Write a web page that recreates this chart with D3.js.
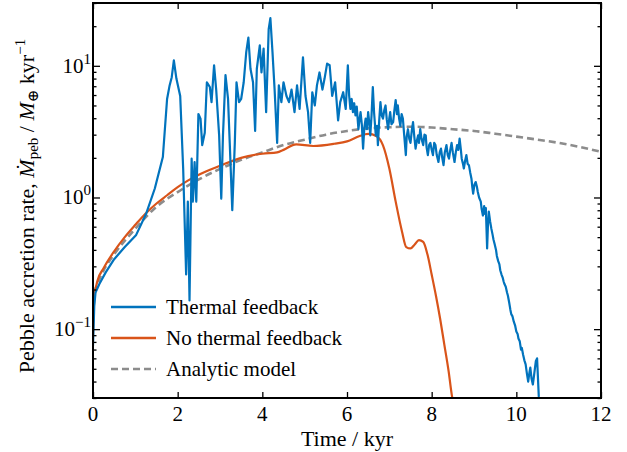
<!DOCTYPE html>
<html>
<head>
<meta charset="utf-8">
<script src="https://cdn.jsdelivr.net/npm/d3@7"></script>
<style>
  body { margin: 0; background: #fff; }
  text { font-family: "Liberation Serif", "DejaVu Serif", serif; fill: #000; }
</style>
</head>
<body>
<svg id="chart" width="627" height="452"></svg>
<script>
// ---- data (time in kyr, rate in M_earth / kyr) ----
var thermalTime = [0, 0.03, 0.06, 0.15, 0.3, 0.5, 0.75, 1.02, 1.26, 1.46, 1.65, 1.75, 1.81, 1.86, 1.91, 1.97, 2.06, 2.13, 2.2, 2.24, 2.28, 2.33, 2.36, 2.4, 2.44, 2.49, 2.54, 2.58, 2.64, 2.69, 2.76, 2.8, 2.86, 2.91, 2.98, 3.03, 3.07, 3.13, 3.19, 3.23, 3.29, 3.35, 3.39, 3.45, 3.5, 3.56, 3.62, 3.67, 3.72, 3.78, 3.83, 3.87, 3.94, 3.98, 4.03, 4.09, 4.15, 4.19, 4.24, 4.29, 4.35, 4.39, 4.45, 4.5, 4.57, 4.63, 4.69, 4.76, 4.82, 4.88, 4.96, 5.02, 5.08, 5.13, 5.18, 5.24, 5.29, 5.35, 5.42, 5.47, 5.53, 5.59, 5.65, 5.72, 5.79, 5.84, 5.91, 5.97,
    6.02, 6.05, 6.08, 6.11, 6.14, 6.17, 6.2, 6.23, 6.27, 6.3, 6.32, 6.35, 6.38, 6.41, 6.44, 6.47, 6.5, 6.53, 6.55, 6.58, 6.61, 6.64, 6.68, 6.71, 6.73, 6.76, 6.79, 6.82, 6.85, 6.88, 6.91, 6.94, 6.97, 7.0,
    7.02, 7.05, 7.09, 7.12, 7.15, 7.18, 7.2, 7.23, 7.26, 7.29, 7.32, 7.35, 7.39, 7.41, 7.44, 7.47, 7.5, 7.53, 7.56, 7.59, 7.62, 7.65, 7.68, 7.7, 7.73, 7.76, 7.8, 7.83, 7.86, 7.88, 7.91, 7.94, 7.97, 8.0,
    8.03, 8.06, 8.09, 8.12, 8.16, 8.19, 8.22, 8.25, 8.28, 8.31, 8.35, 8.38, 8.41, 8.44, 8.47, 8.5, 8.54, 8.57, 8.6, 8.63, 8.66, 8.69, 8.71, 8.74, 8.76, 8.79, 8.82, 8.85, 8.88, 8.91, 8.94, 8.96, 8.98,
    9.01, 9.04, 9.07, 9.09, 9.12, 9.16, 9.18, 9.21, 9.24, 9.26, 9.28, 9.31, 9.33, 9.35, 9.38, 9.41, 9.44, 9.46, 9.49, 9.52, 9.54, 9.57, 9.6, 9.62, 9.65, 9.68, 9.7, 9.72, 9.75, 9.78, 9.8, 9.83, 9.86, 9.88, 9.91, 9.94, 9.97,
    10.0, 10.03, 10.05, 10.08, 10.11, 10.13, 10.16, 10.19, 10.22, 10.25, 10.28, 10.31, 10.33, 10.36, 10.39, 10.42, 10.46, 10.49, 10.53, 10.56];
var thermalRate = [0.075, 0.15, 0.19, 0.22, 0.27, 0.34, 0.42, 0.52, 0.76, 1.17, 2.03, 5.6, 7.1, 8.2, 11.0, 8.0, 5.9, 1.66, 0.26, 0.93, 0.165, 1.97, 0.93, 1.86, 0.93, 4.3, 3.97, 2.5, 3.1, 7.5, 6.9, 5.3, 10.1, 6.6, 2.96, 0.98, 2.96, 8.5, 5.6, 2.6, 0.8, 2.6, 7.5, 5.3, 5.6, 7.5, 12.7, 16.4, 9.5, 7.5, 3.2, 9.5, 14.3, 8.9, 13.5, 4.45, 19, 23, 12.7, 6.6, 2.6, 7.1, 5.3, 7.5, 5.9, 5.3, 6.6, 4.45, 7.1, 4.7, 11.6, 5.9, 4.45, 2.6, 6.3, 5.0, 7.1, 8.9, 6.6, 8.0, 10.4, 10.1, 5.9, 7.5, 3.85, 5.3, 6.3, 4.7,
    10.1, 6.0, 4.7, 5.6, 4.45, 5.2, 4.2, 4.9, 3.3, 4.0, 4.45, 3.6, 2.35, 3.4, 3.97, 3.3, 4.45, 3.6, 2.96, 4.2, 6.9, 4.4, 2.96, 3.5, 2.5, 3.8, 5.3, 4.2, 3.97, 4.6, 5.0, 3.9, 3.3, 4.0,
    4.45, 3.6, 3.74, 4.6, 5.5, 4.3, 5.0, 4.0, 3.5, 4.3, 3.97, 3.0, 2.1, 2.9, 3.3, 2.8, 2.6, 3.2, 3.74, 2.9, 2.35, 2.7, 2.96, 2.6, 3.3, 2.8, 2.5, 3.0, 2.96, 2.4, 2.1, 2.5, 2.6, 2.3,
    2.1, 2.6, 2.5, 2.1, 1.86, 2.2, 2.35, 2.0, 1.76, 2.2, 2.5, 2.1, 1.97, 2.3, 2.6, 2.2, 1.86, 2.2, 2.5, 2.3, 2.8, 2.3, 1.97, 1.8, 1.66, 1.9, 2.1, 1.8, 1.76, 1.55, 1.39, 1.2, 1.07,
    1.25, 1.31, 1.2, 1.1, 1.0, 0.93, 0.82, 0.73, 0.86, 0.75, 0.83, 0.41, 0.62, 0.78, 0.66, 0.58, 0.52, 0.48, 0.44, 0.40, 0.36, 0.33, 0.31, 0.28, 0.26, 0.245, 0.23, 0.22, 0.21, 0.19, 0.18, 0.16, 0.14, 0.13, 0.125, 0.114, 0.107,
    0.096, 0.092, 0.085, 0.081, 0.07, 0.072, 0.064, 0.058, 0.054, 0.046, 0.040, 0.047, 0.051, 0.042, 0.038, 0.045, 0.057, 0.060, 0.031, 0.025];

var noFeedbackTime = [0, 0.03, 0.06, 0.1, 0.25, 0.5, 0.75, 1.0, 1.25, 1.5, 1.75, 2.0, 2.25, 2.5, 3.0, 3.5, 4.0, 4.35, 4.5, 4.8, 5.2, 5.7, 6.0, 6.3, 6.5, 6.7, 6.85, 7.0, 7.15, 7.3, 7.4, 7.5, 7.6, 7.7, 7.8, 7.9, 8.0, 8.1, 8.2, 8.3, 8.4, 8.48, 8.55];
var noFeedbackRate = [0.09, 0.17, 0.2, 0.23, 0.29, 0.39, 0.5, 0.62, 0.76, 0.9, 1.04, 1.2, 1.35, 1.49, 1.74, 2.0, 2.15, 2.2, 2.3, 2.53, 2.46, 2.56, 2.67, 2.93, 3.04, 2.92, 2.49, 1.66, 0.93, 0.55, 0.42, 0.41, 0.44, 0.475, 0.46, 0.37, 0.26, 0.18, 0.12, 0.076, 0.048, 0.031, 0.025];

var analyticTime = [0.02, 0.1, 0.25, 0.5, 1.0, 1.5, 2.0, 2.5, 3.0, 3.5, 4.0, 4.5, 5.0, 5.5, 6.0, 6.5, 7.0, 7.5, 8.0, 8.5, 9.0, 9.5, 10.0, 10.5, 11.0, 11.5, 12.0];
var analyticRate = [0.19, 0.22, 0.28, 0.37, 0.58, 0.85, 1.1, 1.37, 1.65, 1.93, 2.2, 2.5, 2.75, 3.0, 3.2, 3.35, 3.42, 3.45, 3.4, 3.3, 3.2, 3.05, 2.9, 2.75, 2.6, 2.42, 2.22];

var xTicks = [0, 2, 4, 6, 8, 10, 12];
var yTicks = [0.1, 1, 10];
var yExponents = ["\u22121", "0", "1"];
var legendLabels = ["Thermal feedback", "No thermal feedback", "Analytic model"];

// ---- layout ----
var plotLeft = 93, plotRight = 601, plotTop = 3, plotBottom = 398;
var svg = d3.select("#chart");

var x = d3.scaleLinear().domain([0, 12]).range([plotLeft, plotRight]);
var y = d3.scaleLog().domain([0.03, 30]).range([plotBottom, plotTop]);

var colors = ["#0173bd", "#d9541a", "#8c8c8c"];

svg.append("clipPath").attr("id", "plotClip")
    .append("rect")
    .attr("x", plotLeft).attr("y", plotTop)
    .attr("width", plotRight - plotLeft).attr("height", plotBottom - plotTop);

function pairs(t, v) {
    return t.map(function (d, i) { return [d, v[i]]; });
}

function lineGen(curve) {
    return d3.line()
        .x(function (d) { return x(d[0]); })
        .y(function (d) { return y(d[1]); })
        .curve(curve);
}

var plot = svg.append("g").attr("clip-path", "url(#plotClip)");

plot.append("path")
    .datum(pairs(analyticTime, analyticRate))
    .attr("d", lineGen(d3.curveMonotoneX))
    .attr("fill", "none")
    .attr("stroke", colors[2])
    .attr("stroke-width", 2.6)
    .attr("stroke-dasharray", "7,4");

plot.append("path")
    .datum(pairs(noFeedbackTime, noFeedbackRate))
    .attr("d", lineGen(d3.curveMonotoneX))
    .attr("fill", "none")
    .attr("stroke", colors[1])
    .attr("stroke-width", 2.2);

plot.append("path")
    .datum(pairs(thermalTime, thermalRate))
    .attr("d", lineGen(d3.curveLinear))
    .attr("fill", "none")
    .attr("stroke", colors[0])
    .attr("stroke-width", 2.2)
    .attr("stroke-linejoin", "round");

// ---- axes (ticks pointing inward, all four sides) ----
var minorTicks = [];
[-2, -1, 0, 1].forEach(function (e) {
    for (var m = 2; m <= 9; m++) {
        var v = m * Math.pow(10, e);
        if (v >= 0.03 && v <= 30) minorTicks.push(v);
    }
});

var fmtNone = function () { return ""; };

svg.append("g").attr("transform", "translate(0," + plotBottom + ")")
    .call(d3.axisTop(x).tickValues(xTicks).tickSize(6).tickFormat(fmtNone));
svg.append("g").attr("transform", "translate(0," + plotTop + ")")
    .call(d3.axisBottom(x).tickValues(xTicks).tickSize(6).tickFormat(fmtNone));
svg.append("g").attr("transform", "translate(" + plotLeft + ",0)")
    .call(d3.axisRight(y).tickValues(yTicks).tickSize(7).tickFormat(fmtNone));
svg.append("g").attr("transform", "translate(" + plotRight + ",0)")
    .call(d3.axisLeft(y).tickValues(yTicks).tickSize(7).tickFormat(fmtNone));
svg.append("g").attr("transform", "translate(" + plotLeft + ",0)")
    .call(d3.axisRight(y).tickValues(minorTicks).tickSize(3.5).tickFormat(fmtNone));
svg.append("g").attr("transform", "translate(" + plotRight + ",0)")
    .call(d3.axisLeft(y).tickValues(minorTicks).tickSize(3.5).tickFormat(fmtNone));

svg.selectAll(".domain").remove();
svg.selectAll(".tick line").attr("stroke", "#000").attr("stroke-width", 1.3);

svg.append("rect")
    .attr("x", plotLeft).attr("y", plotTop)
    .attr("width", plotRight - plotLeft).attr("height", plotBottom - plotTop)
    .attr("fill", "none").attr("stroke", "#000").attr("stroke-width", 2);

// tick labels
svg.selectAll("text.xlab").data(xTicks).enter().append("text")
    .attr("class", "xlab")
    .attr("x", function (d) { return x(d); })
    .attr("y", 421)
    .attr("text-anchor", "middle")
    .attr("font-size", 21)
    .text(function (d) { return d; });

var ylab = svg.selectAll("text.ylab").data(yTicks).enter().append("text")
    .attr("class", "ylab")
    .attr("x", 91)
    .attr("y", function (d) { return y(d) + 7; })
    .attr("text-anchor", "end")
    .attr("font-size", 21);
ylab.append("tspan").text("10");
ylab.append("tspan").attr("dy", -9).attr("font-size", 15)
    .text(function (d, i) { return yExponents[i]; });

// axis titles
svg.append("text")
    .attr("x", (plotLeft + plotRight) / 2).attr("y", 446)
    .attr("text-anchor", "middle").attr("font-size", 22)
    .text("Time / kyr");

var yt = svg.append("text")
    .attr("transform", "translate(34,206) rotate(-90)")
    .attr("text-anchor", "middle").attr("font-size", 22);
yt.append("tspan").text("Pebble accretion rate, ");
yt.append("tspan").attr("font-style", "italic").text("M\u0307");
yt.append("tspan").attr("font-size", 15).attr("dy", 4).text("peb");
yt.append("tspan").attr("dy", -4).text(" / ");
yt.append("tspan").attr("font-style", "italic").text("M");
yt.append("tspan").attr("font-size", 15).attr("dy", 4).text("\u2295");
yt.append("tspan").attr("dy", -4).text(" kyr");
yt.append("tspan").attr("font-size", 15).attr("dy", -9).text("\u22121");

// legend
var leg = svg.append("g");
legendLabels.forEach(function (lab, i) {
    var ly = 307 + i * 31;
    leg.append("line")
        .attr("x1", 111).attr("x2", 156)
        .attr("y1", ly).attr("y2", ly)
        .attr("stroke", colors[i])
        .attr("stroke-width", i === 2 ? 2.6 : 2.4)
        .attr("stroke-dasharray", i === 2 ? "7,4" : null);
    leg.append("text")
        .attr("x", 166).attr("y", ly + 7)
        .attr("font-size", 21)
        .text(lab);
});
</script>
</body>
</html>
